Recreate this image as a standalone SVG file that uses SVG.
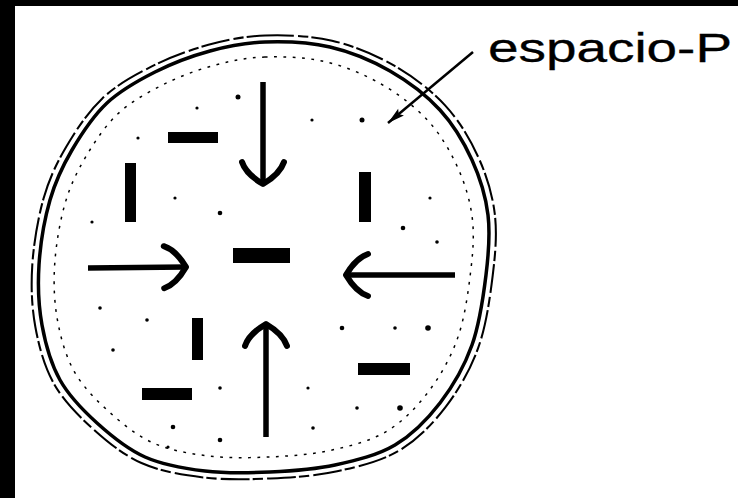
<svg xmlns="http://www.w3.org/2000/svg" width="738" height="498" viewBox="0 0 738 498">
  <style>
    .ink { fill: #000; }
    .shaft { stroke: #000; stroke-width: 5.5; fill: none; stroke-linecap: butt; }
    .head { stroke: #000; stroke-width: 6; fill: none; stroke-linecap: round; stroke-linejoin: round; }
    .rim { fill: none; stroke: #000; }
    .dot { fill: #000; }
    .label { font-family: "Liberation Sans", Arial, sans-serif; font-size: 40px; fill: #000; stroke: #000; stroke-width: 0.3; }
  </style>
  <defs>
    <path id="outline" d="M265,42 C285,41.33 309.17,42.17 330,47 C350.83,51.83 371.67,60.5 390,71 C408.33,81.5 426.33,95.17 440,110 C453.67,124.83 464,142.5 472,160 C480,177.5 485.67,195.83 488,215 C490.33,234.17 488.67,253.33 486,275 C483.33,296.67 479.67,323.67 472,345 C464.33,366.33 452.83,386.33 440,403 C427.17,419.67 412.5,434.67 395,445 C377.5,455.33 355.83,460.5 335,465 C314.17,469.5 291.67,471 270,472 C248.33,473 225.83,473.5 205,471 C184.17,468.5 163,465 145,457 C127,449 111.17,435.83 97,423 C82.83,410.17 69.17,396.33 60,380 C50.83,363.67 45.5,344.17 42,325 C38.5,305.83 37.67,285.83 39,265 C40.33,244.17 44.5,219.17 50,200 C55.5,180.83 62.5,166.17 72,150 C81.5,133.83 93.17,116 107,103 C120.83,90 137.83,80.67 155,72 C172.17,63.33 191.67,56 210,51 C228.33,46 245,42.67 265,42 Z"/>
    <marker id="vhead" markerUnits="userSpaceOnUse" viewBox="-30 -30 40 60" markerWidth="40" markerHeight="60" refX="0" refY="0" orient="auto" overflow="visible">
      <path class="head" d="M-22,-21 Q-10,-17 0,0 Q-10,17 -22,21"/>
    </marker>
    <marker id="lead" markerUnits="userSpaceOnUse" viewBox="-20 -10 30 20" markerWidth="30" markerHeight="20" refX="0" refY="0" orient="auto" overflow="visible">
      <path class="ink" d="M0,0 L-17,-4.5 L-14,0 L-17,4.5 Z"/>
    </marker>
  </defs>

  <rect x="0" y="0" width="738" height="498" fill="#fff"/>
  <rect class="ink" x="0" y="0" width="15" height="498"/>
  <rect class="ink" x="0" y="0" width="738" height="6"/>

  <g id="espacio-P">
    <use href="#outline" class="rim" stroke-width="3.5"/>
    <use href="#outline" class="rim" stroke-width="2" stroke-dasharray="28 4 10 3" transform="translate(263 257) scale(1.03) translate(-263 -257)"/>
    <use href="#outline" class="rim" stroke-width="1.6" stroke-dasharray="3 7" transform="translate(263 257) scale(0.93) translate(-263 -257)"/>
  </g>

  <g id="charges">
    <rect id="c-center" class="ink" x="233" y="248" width="57" height="15"/>
    <rect id="c-topleft" class="ink" x="168" y="132" width="50" height="11"/>
    <rect id="c-leftbar" class="ink" x="125" y="163" width="11" height="59"/>
    <rect id="c-rightbar" class="ink" x="359" y="172" width="12" height="50"/>
    <rect id="c-lowbar" class="ink" x="192" y="318" width="11" height="42"/>
    <rect id="c-lowleft" class="ink" x="142" y="388" width="50" height="12"/>
    <rect id="c-lowright" class="ink" x="358" y="363" width="52" height="12"/>
  </g>

  <g id="dots">
    <circle class="dot" cx="238" cy="97" r="2.5"/>
    <circle class="dot" cx="197" cy="108" r="1.6"/>
    <circle class="dot" cx="312" cy="120" r="1.6"/>
    <circle class="dot" cx="362" cy="120" r="2.5"/>
    <circle class="dot" cx="138" cy="138" r="1.6"/>
    <circle class="dot" cx="175" cy="198" r="1.6"/>
    <circle class="dot" cx="220" cy="213" r="2.3"/>
    <circle class="dot" cx="92" cy="222" r="1.6"/>
    <circle class="dot" cx="430" cy="198" r="1.6"/>
    <circle class="dot" cx="403" cy="228" r="2.3"/>
    <circle class="dot" cx="437" cy="242" r="1.8"/>
    <circle class="dot" cx="100" cy="308" r="1.8"/>
    <circle class="dot" cx="147" cy="320" r="1.8"/>
    <circle class="dot" cx="113" cy="350" r="1.8"/>
    <circle class="dot" cx="342" cy="328" r="2.3"/>
    <circle class="dot" cx="395" cy="328" r="1.8"/>
    <circle class="dot" cx="428" cy="328" r="2.8"/>
    <circle class="dot" cx="220" cy="388" r="1.8"/>
    <circle class="dot" cx="308" cy="388" r="1.6"/>
    <circle class="dot" cx="357" cy="408" r="1.8"/>
    <circle class="dot" cx="400" cy="408" r="2.8"/>
    <circle class="dot" cx="173" cy="427" r="2.3"/>
    <circle class="dot" cx="313" cy="428" r="1.8"/>
    <circle class="dot" cx="220" cy="440" r="2.3"/>
    <circle class="dot" cx="168" cy="447" r="1.6"/>
  </g>

  <g id="connectors">
    <path id="arrow-down" class="shaft" d="M263,82 L263,184" marker-end="url(#vhead)"/>
    <path id="arrow-up" class="shaft" d="M266,437 L266,324" marker-end="url(#vhead)"/>
    <path id="arrow-right" class="shaft" d="M88,268 L186,267" marker-end="url(#vhead)"/>
    <path id="arrow-left" class="shaft" d="M455,275 L346,275" marker-end="url(#vhead)"/>
    <line id="leader" x1="473" y1="52" x2="388" y2="123" stroke="#000" stroke-width="2.5" marker-end="url(#lead)"/>
  </g>

  <g id="label">
    <text class="label" x="488" y="62" textLength="244" lengthAdjust="spacingAndGlyphs">espacio-P</text>
  </g>
</svg>
